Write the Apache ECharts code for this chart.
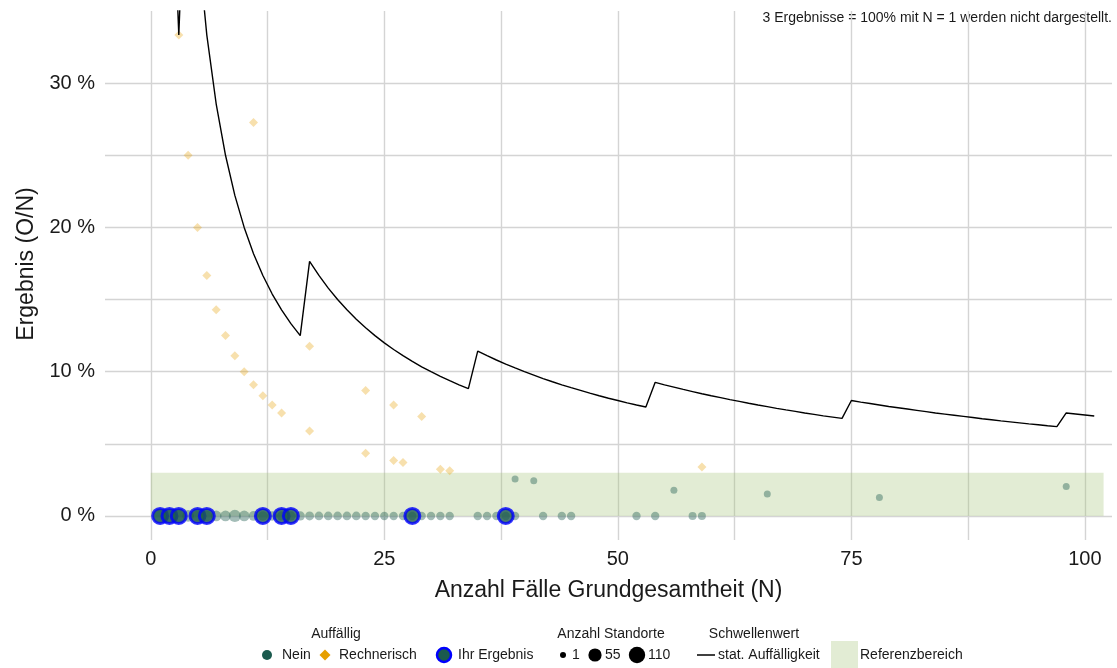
<!DOCTYPE html>
<html>
<head>
<meta charset="utf-8">
<script src="https://cdn.jsdelivr.net/npm/echarts@6/dist/echarts.min.js"></script>
<style>
  html, body { margin: 0; padding: 0; background: #fff; }
  #main { width: 1117px; height: 668px; }
</style>
</head>
<body>
<div id="main"></div>
<script>
// Standorte ohne Auffälligkeit: Fälle N, Ergebnis in %, Anzahl Standorte
const neinN = [1, 2, 3, 4, 5, 6, 7, 8, 9, 10, 11, 12, 13, 14, 15, 16, 17, 18, 19, 20, 21, 22, 23, 24, 25, 26, 27, 28, 29, 30, 31, 32,
  35, 36, 37, 38, 39, 42, 44, 45, 52, 54, 58, 59, 39, 41, 56, 66, 78, 98]
const neinPct = [0, 0, 0, 0, 0, 0, 0, 0, 0, 0, 0, 0, 0, 0, 0, 0, 0, 0, 0, 0, 0, 0, 0, 0, 0, 0, 0, 0, 0, 0, 0, 0,
  0, 0, 0, 0, 0, 0, 0, 0, 0, 0, 0, 0, 2.56, 2.44, 1.79, 1.52, 1.28, 2.04]
const neinCount = [40, 35, 30, 25, 22, 18, 16, 16, 30, 16, 9, 8, 8, 7, 7, 7, 5, 4, 4, 4, 4, 4, 3, 3, 3, 3, 3, 3, 3, 3, 3, 3,
  3, 3, 3, 3, 3, 3, 3, 3, 3, 3, 2, 2, 1, 1, 1, 1, 1, 1]

// rechnerisch auffällige Standorte
const rechN = [3, 4, 5, 6, 7, 8, 9, 10, 11, 12, 13, 14, 11, 17, 17, 23, 23, 26, 26, 27, 29, 31, 32, 59]
const rechPct = [33.33, 25, 20, 16.67, 14.29, 12.5, 11.11, 10, 9.09, 8.33, 7.69, 7.14, 27.27, 11.76, 5.88, 8.7, 4.35,
  7.69, 3.85, 3.7, 6.9, 3.23, 3.13, 3.39]

// eigene Ergebnisse
const ihrN = [1, 2, 3, 5, 6, 12, 14, 15, 28, 38]
const ihrPct = [0, 0, 0, 0, 0, 0, 0, 0, 0, 0]

// Schwellenwert stat. Auffälligkeit je N
const thrN = [1, 2, 3, 4, 5, 6, 7, 8, 9, 10, 11, 12, 13, 14, 15, 16, 17, 18, 19, 20, 21, 22, 23, 24, 25, 26, 27, 28, 29, 30,
  31, 32, 33, 34, 35, 36, 37, 38, 39, 40, 41, 42, 43, 44, 45, 46, 47, 48, 49, 50, 51, 52, 53, 54, 55, 56, 57, 58, 59, 60,
  61, 62, 63, 64, 65, 66, 67, 68, 69, 70, 71, 72, 73, 74, 75, 76, 77, 78, 79, 80, 81, 82, 83, 84, 85, 86, 87, 88, 89, 90,
  91, 92, 93, 94, 95, 96, 97, 98, 99, 100, 101]
const thrPct = [100, 50, 33.33, 50, 40, 33.33, 28.57, 25, 22.22, 20, 18.18, 16.67, 15.38, 14.29, 13.33, 12.5,
  17.65, 16.67, 15.79, 15, 14.29, 13.64, 13.04, 12.5, 12, 11.54, 11.11, 10.71, 10.34, 10, 9.68, 9.38, 9.09, 8.82,
  11.43, 11.11, 10.81, 10.53, 10.26, 10, 9.76, 9.52, 9.3, 9.09, 8.89, 8.7, 8.51, 8.33, 8.16, 8, 7.84, 7.69, 7.55,
  9.26, 9.09, 8.93, 8.77, 8.62, 8.47, 8.33, 8.2, 8.06, 7.94, 7.81, 7.69, 7.58, 7.46, 7.35, 7.25, 7.14, 7.04, 6.94, 6.85, 6.76,
  8, 7.89, 7.79, 7.69, 7.59, 7.5, 7.41, 7.32, 7.23, 7.14, 7.06, 6.98, 6.9, 6.82, 6.74, 6.67, 6.59, 6.52, 6.45, 6.38, 6.32, 6.25, 6.19,
  7.14, 7.07, 7, 6.93]

// Achsen
const xTicks = [0, 25, 50, 75, 100]
const xGrid = [0, 12.5, 25, 37.5, 50, 62.5, 75, 87.5, 100]
const yTicks = [0, 10, 20, 30]
const yGrid = [0, 5, 10, 15, 20, 25, 30]
const refRange = [0, 3]
const refN = [0, 102]

const FONT = 'Liberation Sans, Arial, sans-serif'
const TXT = '#1a1a1a'
const GRID = '#d4d4d4'

function dotSize(n) {
  return 7 + 10 * Math.sqrt((n - 1) / 109)
}

const myChart = echarts.init(document.getElementById('main'))

const gridLines = xGrid.map(v => ({ xAxis: v })).concat(yGrid.map(v => ({ yAxis: v })))

function legendText(x, y, text, align) {
  return {
    type: 'text',
    style: { x: x, y: y, text: text, font: '14px ' + FONT, fill: TXT, align: align || 'left', textAlign: align || 'left', verticalAlign: 'middle', textVerticalAlign: 'middle' }
  }
}

const option = {
  animation: false,
  textStyle: { fontFamily: FONT },
  grid: { left: 105, right: 5, top: 11, bottom: 128, containLabel: false },
  xAxis: {
    type: 'value',
    min: -4.9,
    max: 102.9,
    name: 'Anzahl Fälle Grundgesamtheit (N)',
    nameLocation: 'middle',
    nameGap: 39,
    nameTextStyle: { fontSize: 23, color: TXT, fontFamily: FONT },
    axisLine: { show: false },
    axisTick: { show: false, customValues: xTicks },
    splitLine: { show: false },
    axisLabel: { customValues: xTicks, fontSize: 20, color: TXT, margin: 9, fontFamily: FONT }
  },
  yAxis: {
    type: 'value',
    min: -1.667,
    max: 35,
    axisLine: { show: false },
    axisTick: { show: false, customValues: yTicks },
    splitLine: { show: false },
    axisLabel: { customValues: yTicks, fontSize: 20, color: TXT, margin: 10, fontFamily: FONT, formatter: '{value} %' }
  },
  series: [
    {
      name: 'Referenzbereich',
      type: 'line',
      data: [],
      z: 0,
      silent: true,
      markLine: {
        silent: true,
        symbol: ['none', 'none'],
        z: 0,
        label: { show: false },
        lineStyle: { color: GRID, width: 1.4, type: 'solid' },
        data: gridLines
      },
      markArea: {
        silent: true,
        z: 1,
        itemStyle: { color: 'rgba(158,192,112,0.3)' },
        data: [[{ xAxis: refN[0], yAxis: refRange[0] }, { xAxis: refN[1], yAxis: refRange[1] }]]
      }
    },
    {
      name: 'Nein',
      type: 'scatter',
      z: 3,
      symbol: 'circle',
      data: neinN.map((n, i) => [n, neinPct[i], neinCount[i]]),
      symbolSize: d => dotSize(d[2]),
      itemStyle: { color: 'rgba(27,90,78,0.5)' }
    },
    {
      name: 'Rechnerisch',
      type: 'scatter',
      z: 4,
      symbol: 'diamond',
      symbolSize: 9,
      data: rechN.map((n, i) => [n, rechPct[i]]),
      itemStyle: { color: 'rgba(230,159,0,0.4)' }
    },
    {
      name: 'Ihr Ergebnis',
      type: 'scatter',
      z: 5,
      symbol: 'circle',
      symbolSize: 15,
      data: ihrN.map((n, i) => [n, ihrPct[i]]),
      itemStyle: { color: '#1b5a4e', borderColor: '#0000ff', borderWidth: 3 }
    },
    {
      name: 'stat. Auffälligkeit',
      type: 'line',
      z: 6,
      clip: true,
      showSymbol: false,
      symbol: 'none',
      data: thrN.map((n, i) => [n, thrPct[i]]),
      lineStyle: { color: '#000', width: 1.4 }
    }
  ],
  graphic: [
    {
      type: 'text',
      x: 27,
      y: 264,
      rotation: Math.PI / 2,
      style: { text: 'Ergebnis (O/N)', font: '23px ' + FONT, fill: TXT, align: 'center', textAlign: 'center', verticalAlign: 'middle', textVerticalAlign: 'middle' }
    },
    legendText(1112, 18, '3 Ergebnisse = 100% mit N = 1 werden nicht dargestellt.', 'right'),
    legendText(336, 634, 'Auffällig', 'center'),
    { type: 'circle', shape: { cx: 267, cy: 655, r: 5 }, style: { fill: '#1b5a4e' } },
    legendText(282, 655, 'Nein'),
    { type: 'polygon', shape: { points: [[325, 649.5], [330.5, 655], [325, 660.5], [319.5, 655]] }, style: { fill: '#E69F00' } },
    legendText(339, 655, 'Rechnerisch'),
    { type: 'circle', shape: { cx: 444, cy: 655, r: 7 }, style: { fill: '#1b5a4e', stroke: '#0000ff', lineWidth: 2.5 } },
    legendText(458, 655, 'Ihr Ergebnis'),
    legendText(611, 634, 'Anzahl Standorte', 'center'),
    { type: 'circle', shape: { cx: 563, cy: 655, r: 3 }, style: { fill: '#000' } },
    legendText(572, 655, '1'),
    { type: 'circle', shape: { cx: 595, cy: 655, r: 6.6 }, style: { fill: '#000' } },
    legendText(605, 655, '55'),
    { type: 'circle', shape: { cx: 637, cy: 655, r: 8.2 }, style: { fill: '#000' } },
    legendText(648, 655, '110'),
    legendText(754, 634, 'Schwellenwert', 'center'),
    { type: 'line', shape: { x1: 697, y1: 655, x2: 715, y2: 655 }, style: { stroke: '#000', lineWidth: 1.5 } },
    legendText(718, 655, 'stat. Auffälligkeit'),
    { type: 'rect', shape: { x: 831, y: 641, width: 27, height: 27 }, style: { fill: '#e2ecd4' } },
    legendText(860, 655, 'Referenzbereich')
  ]
}

myChart.setOption(option)
</script>
</body>
</html>
